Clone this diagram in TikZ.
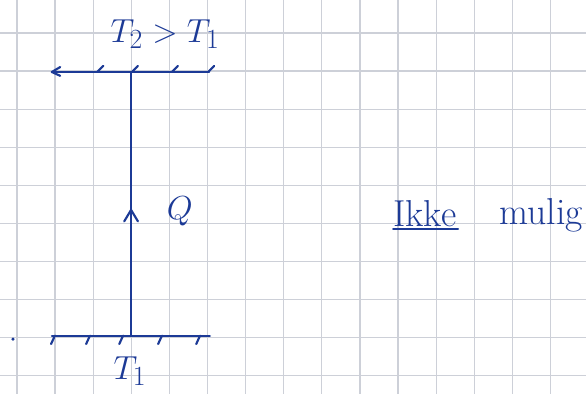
\documentclass[tikz,border=0pt]{standalone}
\usetikzlibrary{arrows.meta}
\definecolor{inkblue}{RGB}{28,58,150}
\definecolor{gridgray}{RGB}{205,208,216}
\tikzset{
  ink/.style={inkblue,line width=1.6pt,line cap=round,line join=round},
  gridline/.style={gridgray,line width=0.9pt},
  inklabel/.style={inkblue,font=\Huge},
  inkword/.style={inkblue,font=\fontsize{28}{30}\selectfont}
}
\begin{document}
\begin{tikzpicture}
  \useasboundingbox (0,0) rectangle (15.38,10.34);
  % Squared paper
  \foreach \i in {0,...,15}
    \draw[gridline] (0.446+\i,0) -- (0.446+\i,10.34);
  \foreach \j in {0,...,9}
    \draw[gridline] (0,0.475+\j) -- (15.38,0.475+\j);
  % Reservoirs
  \coordinate (hotL) at (1.36,8.45);
  \coordinate (hotR) at (5.49,8.45);
  \coordinate (hot) at (3.44,8.45);
  \coordinate (coldL) at (1.36,1.53);
  \coordinate (coldR) at (5.51,1.53);
  \coordinate (cold) at (3.44,1.53);
  \draw[ink] (hotR) -- (hotL);
  \draw[ink] (hotL) -- ++(0.22,0.13) (hotL) -- ++(0.22,-0.1);
  \foreach \x in {2.55,3.46,4.51,5.46}
    \draw[ink] (\x,8.45) -- ++(0.16,0.16);
  \draw[ink] (coldL) -- (coldR);
  \foreach \x in {1.44,2.36,3.23,4.25,5.25}
    \draw[ink] (\x,1.53) -- ++(-0.1,-0.22);
  \fill[inkblue] (0.34,1.44) circle (1.3pt);
  % Heat flow upwards
  \draw[ink] (cold) -- (hot);
  \coordinate (tip) at (3.44,4.83);
  \draw[ink] (tip) ++(-0.18,-0.3) -- (tip) -- ++(0.18,-0.3);
  \node[inklabel] (q) at (4.72,4.78) {$Q$};
  % Temperatures
  \node[inklabel] (thot) at (4.33,9.45) {$T_2 > T_1$};
  \node[inklabel] (tcold) at (3.41,0.6) {$T_1$};
  % Verdict
  \node[inkword] (ikke) at (11.15,4.72) {Ikke};
  \node[inkword] (mulig) at (14.2,4.68) {mulig};
  \draw[ink] (10.32,4.33) -- (12.02,4.33);
\end{tikzpicture}
\end{document}
